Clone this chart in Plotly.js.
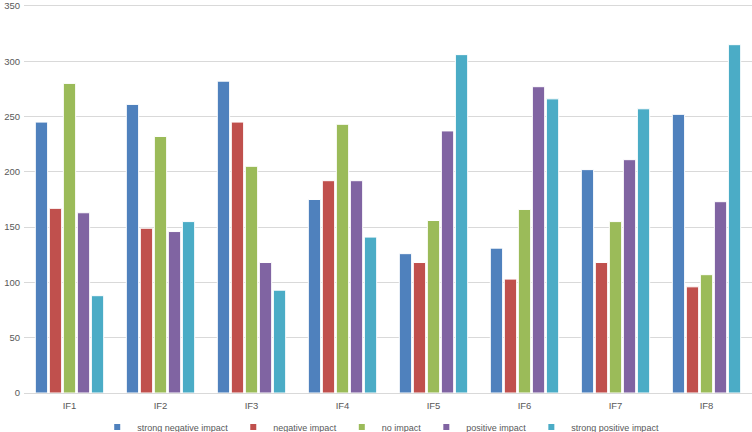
<!DOCTYPE html>
<html>
<head>
<meta charset="utf-8">
<script src="https://cdn.plot.ly/plotly-3.0.1.min.js"></script>
<style>html,body{margin:0;padding:0;background:#fff;overflow:hidden;}#chart{width:752px;height:445px;}</style>
</head>
<body>
<div id="chart"></div>
<script>
const categories = ["IF1","IF2","IF3","IF4","IF5","IF6","IF7","IF8"];
const seriesNames = ["strong negative impact","negative impact","no impact","positive impact","strong positive impact"];
const strongNegative = [245,261,282,175,126,131,202,252];
const negative = [167,149,245,192,118,103,118,96];
const noImpact = [280,232,205,243,156,166,155,107];
const positive = [163,146,118,192,237,277,211,173];
const strongPositive = [88,155,93,141,306,266,257,315];
const yTicks = [0,50,100,150,200,250,300,350];
const colors = ["#4F81BD","#C0504D","#9BBB59","#8064A2","#4BACC6"];
const values = [strongNegative, negative, noImpact, positive, strongPositive];

const traces = values.map((v,i)=>({
  type:"bar", x:categories, y:v, name:seriesNames[i], showlegend:false,
  marker:{color:colors[i], line:{color:"#ffffff", width:1}}
}));
// legend entries (small square keys as in the reference)
values.forEach((v,i)=>traces.push({
  type:"scatter", mode:"markers", x:[null], y:[null], name:seriesNames[i],
  marker:{symbol:"square", size:6, color:colors[i]}, showlegend:true
}));

const layout = {
  width:752, height:445,
  margin:{l:24,r:0,t:1,b:52,pad:0},
  paper_bgcolor:"#fff", plot_bgcolor:"#fff",
  font:{family:"Liberation Sans, Arial, sans-serif", size:10, color:"#595959"},
  barmode:"group", bargap:0.23, bargroupgap:0.12,
  xaxis:{type:"category", showgrid:false, zeroline:false, showline:false, ticks:"",
         tickfont:{size:9.5,color:"#595959"}, ticklabelstandoff:5, automargin:false},
  yaxis:{range:[0,354.5], tickvals:yTicks, showgrid:true, gridcolor:"#D9D9D9", gridwidth:1,
         zeroline:true, zerolinecolor:"#D9D9D9", zerolinewidth:1, showline:false, ticks:"",
         tickfont:{size:9.5,color:"#595959"}, ticklabelstandoff:3, automargin:false,
         ticklabeloverflow:"allow"},
  showlegend:true,
  legend:{orientation:"h", x:0.49, xanchor:"center", y:-0.087, yanchor:"middle",
          font:{size:9,color:"#595959"}, itemwidth:30, tracegroupgap:0}
};
Plotly.newPlot("chart", traces, layout, {displayModeBar:false, staticPlot:true});
</script>
</body>
</html>
